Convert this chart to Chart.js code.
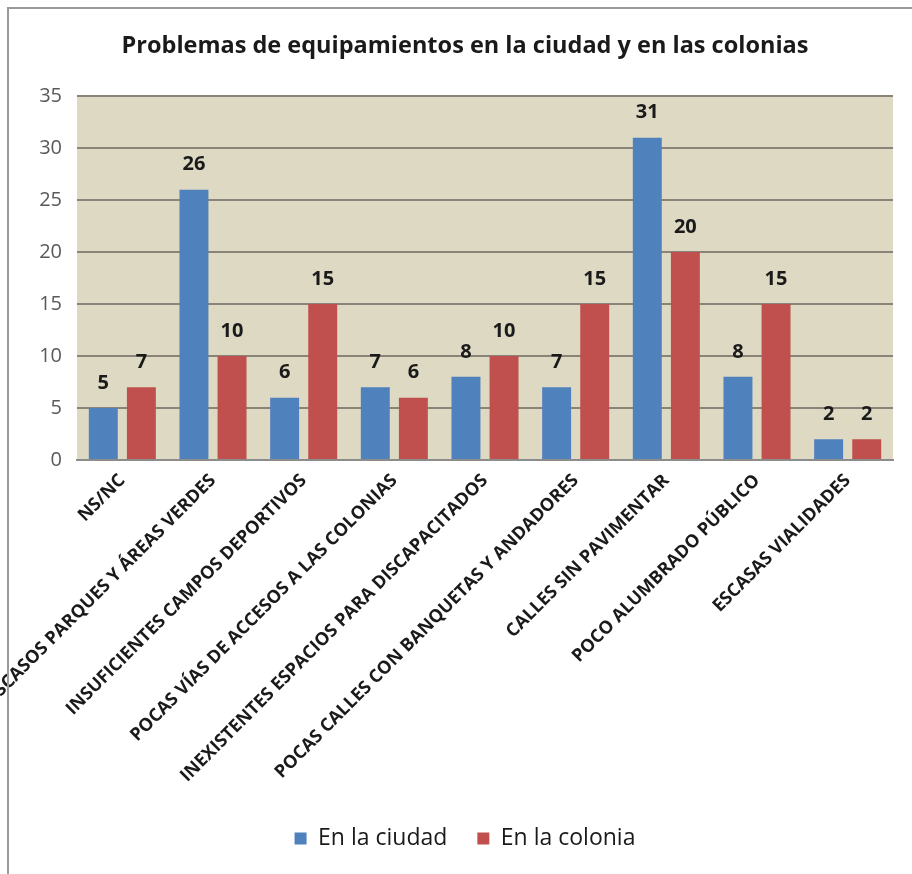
<!DOCTYPE html>
<html>
<head>
<meta charset="utf-8">
<script src="https://cdn.jsdelivr.net/npm/chart.js@4.4.1/dist/chart.umd.min.js"></script>
<style>
  html, body { margin: 0; padding: 0; background: #fff; overflow: hidden; }
  #wrap { position: relative; width: 912px; height: 874px; }
  #frame {
    position: absolute; left: 7px; top: 7px; width: 920px; height: 900px;
    border-left: 2px solid #9a9a9a; border-top: 2px solid #9a9a9a;
    pointer-events: none;
  }
</style>
</head>
<body>
<div id="wrap">
  <canvas id="chart" width="912" height="874"></canvas>
  <div id="frame"></div>
</div>
<script>
const categories = [
  "NS/NC",
  "ESCASOS PARQUES Y ÁREAS VERDES",
  "INSUFICIENTES CAMPOS DEPORTIVOS",
  "POCAS VÍAS DE ACCESOS A LAS COLONIAS",
  "INEXISTENTES ESPACIOS PARA DISCAPACITADOS",
  "POCAS CALLES CON BANQUETAS Y ANDADORES",
  "CALLES SIN PAVIMENTAR",
  "POCO ALUMBRADO PÚBLICO",
  "ESCASAS VIALIDADES"
];
const enLaCiudad = [5, 26, 6, 7, 8, 7, 31, 8, 2];
const enLaColonia = [7, 10, 15, 6, 10, 15, 20, 15, 2];
const yTicks = [0, 5, 10, 15, 20, 25, 30, 35];

const FONT = "'Open Sans', sans-serif";

// fondo del área de trazado
const plotBg = {
  id: "plotBg",
  beforeDraw(chart) {
    const { ctx, chartArea: a } = chart;
    ctx.save();
    ctx.fillStyle = "#ddd9c3";
    ctx.fillRect(a.left, a.top, a.right - a.left, a.bottom - a.top);
    ctx.restore();
  }
};

// etiquetas de valor encima de cada barra
const valueLabels = {
  id: "valueLabels",
  afterDatasetsDraw(chart) {
    const ctx = chart.ctx;
    ctx.save();
    ctx.font = "bold 20px " + FONT;
    ctx.fillStyle = "#1a1a1a";
    ctx.textAlign = "center";
    ctx.textBaseline = "middle";
    chart.data.datasets.forEach((ds, i) => {
      chart.getDatasetMeta(i).data.forEach((bar, j) => {
        ctx.fillText(String(ds.data[j]), bar.x, bar.y - 25);
      });
    });
    ctx.restore();
  }
};

new Chart(document.getElementById("chart"), {
  type: "bar",
  data: {
    labels: categories,
    datasets: [
      {
        label: "En la ciudad",
        data: enLaCiudad,
        backgroundColor: "#4f81bd",
        categoryPercentage: 0.84,
        barPercentage: 0.76
      },
      {
        label: "En la colonia",
        data: enLaColonia,
        backgroundColor: "#c0504d",
        categoryPercentage: 0.84,
        barPercentage: 0.76
      }
    ]
  },
  options: {
    responsive: false,
    animation: false,
    layout: { padding: { left: 18, right: 0, top: 0, bottom: 14 } },
    plugins: {
      title: {
        display: true,
        text: "Problemas de equipamientos en la ciudad y en las colonias",
        color: "#1a1a1a",
        font: { family: FONT, size: 23.5, weight: "bold" },
        padding: { top: 32, bottom: 36 }
      },
      legend: {
        position: "bottom",
        labels: {
          color: "#1a1a1a",
          font: { family: FONT, size: 23 },
          boxWidth: 12,
          boxHeight: 12,
          padding: 30
        }
      },
      tooltip: { enabled: false }
    },
    scales: {
      x: {
        grid: { display: false },
        border: { display: true, color: "#8c8c8c", width: 2 },
        ticks: {
          color: "#1a1a1a",
          font: { family: FONT, size: 18, weight: "bold" },
          maxRotation: 45,
          minRotation: 45,
          autoSkip: false,
          padding: 2
        },
        afterFit(scale) {
          scale.paddingLeft = 0;
          scale.paddingRight = 19;
          scale.height = 337;
        }
      },
      y: {
        min: 0,
        max: 35,
        afterBuildTicks(scale) {
          scale.ticks = yTicks.map((v) => ({ value: v }));
        },
        grid: { color: "#8a8478", lineWidth: 2, drawTicks: false },
        border: { display: false },
        ticks: {
          color: "#595959",
          font: { family: FONT, size: 20 },
          padding: 15
        },
        afterFit(scale) {
          scale.width = 59;
        }
      }
    }
  },
  plugins: [plotBg, valueLabels]
});
</script>
</body>
</html>
